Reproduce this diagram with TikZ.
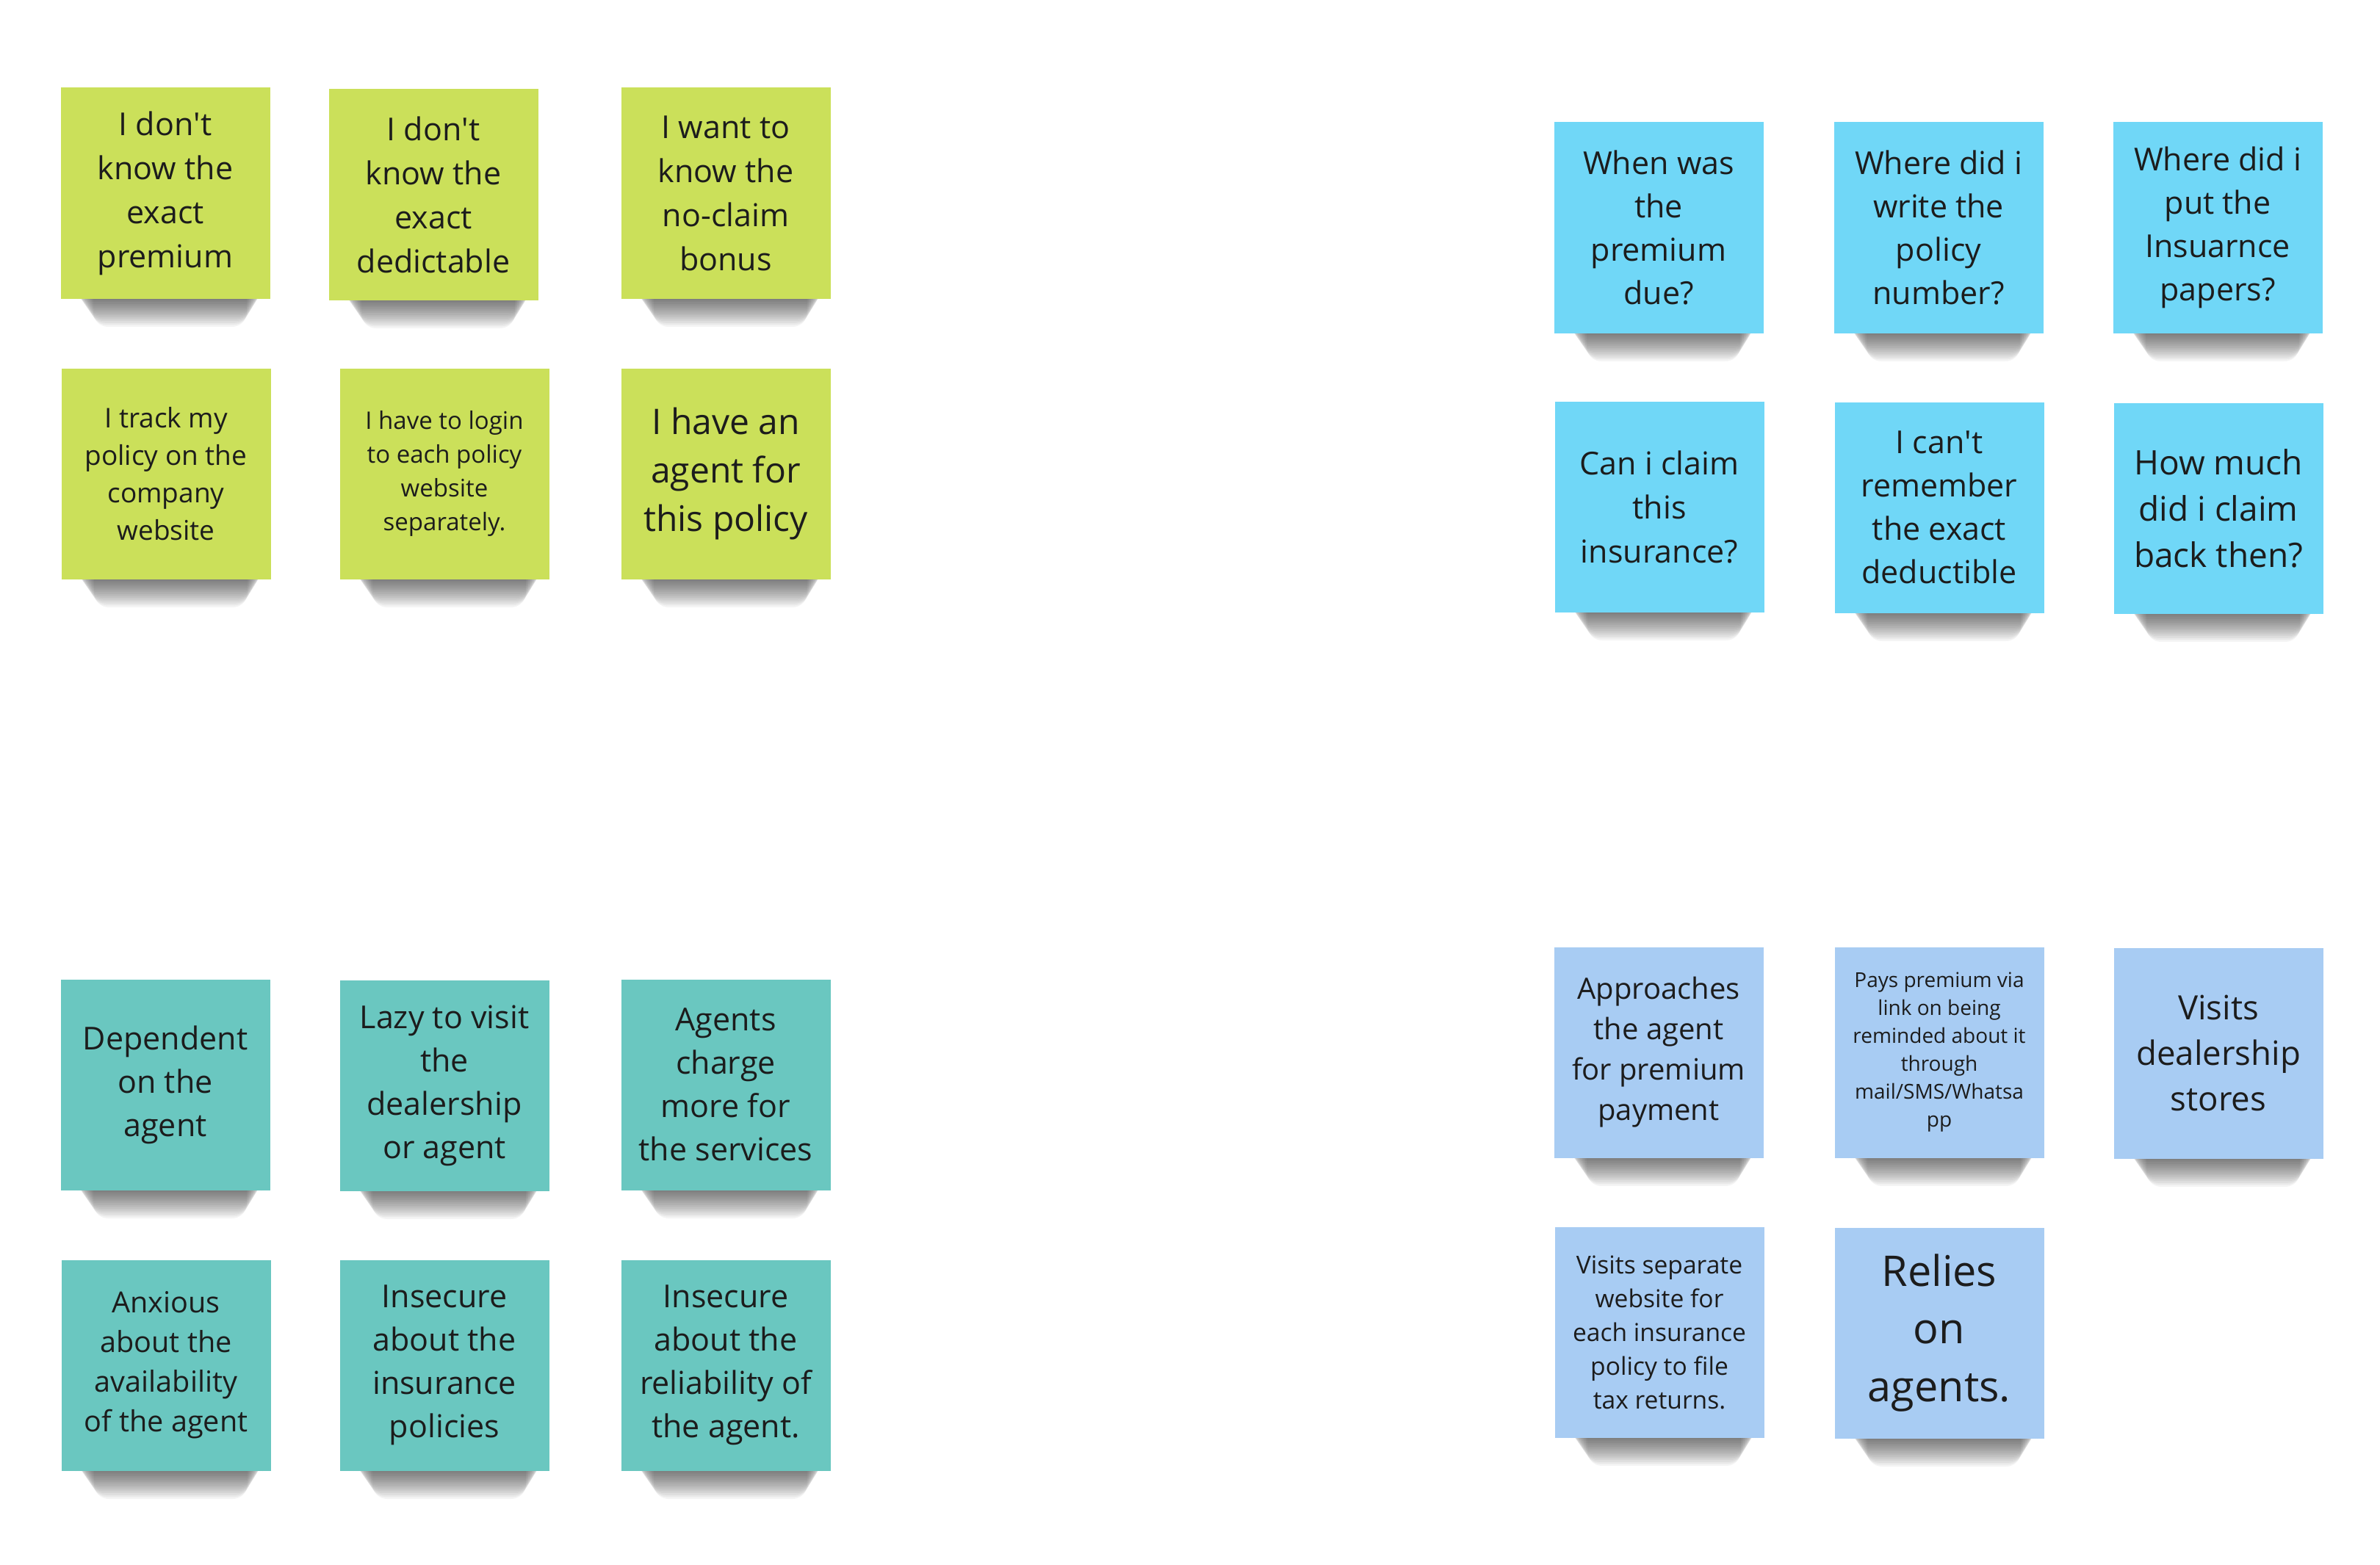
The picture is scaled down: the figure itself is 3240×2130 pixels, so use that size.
\documentclass[tikz,border=0pt]{standalone}
\usepackage{fontspec}
\setmainfont{Open Sans}
\definecolor{limeN}{HTML}{CBE05A}
\definecolor{cyanN}{HTML}{70D7F7}
\definecolor{tealN}{HTML}{6AC7C0}
\definecolor{lblueN}{HTML}{A8CCF3}
\definecolor{inkN}{HTML}{1C1C1C}
\tikzset{
  note/.style={rectangle, minimum width=71.25pt, minimum height=71.75pt, inner sep=0pt,
    text=inkN, align=center},
  shadowlayer/.style={fill=black, fill opacity=0.045, rounded corners=5pt}
}
\newcommand\stickynote[7]{%
  \foreach \k in {1,...,15}{
    \fill[shadowlayer] ({#2-125+1.8*\k},{#3+125}) rectangle ({#2+135-1.6*\k},{#3+143+2.6*\k});
  }
  \node[note, fill=#4, font=\fontsize{#5}{#6}\selectfont] (#1) at (#2,#3) {#7};}
\newcommand\ap{\textquotesingle}
\begin{document}
\begin{tikzpicture}[x=0.25pt, y=-0.25pt]
\useasboundingbox[fill=white] (0,0) rectangle (3240,2130);
% green
\stickynote{g1}{225}{263}{limeN}{10.75pt}{15pt}{I don\ap t\\know the\\exact\\premium}
\stickynote{g2}{590}{265}{limeN}{10.75pt}{15pt}{I don\ap t\\know the\\exact\\dedictable}
\stickynote{g3}{988}{263}{limeN}{10.75pt}{15pt}{I want to\\know the\\no-claim\\bonus}
\stickynote{g4}{226}{645}{limeN}{9.25pt}{12.75pt}{I track my\\policy on the\\company\\website}
\stickynote{g5}{605}{645}{limeN}{8.25pt}{11.5pt}{I have to login\\to each policy\\website\\separately.}
\stickynote{g6}{988}{645}{limeN}{12pt}{16.5pt}{I have an\\agent for\\this policy}
% teal
\stickynote{t1}{225}{1477}{tealN}{10.75pt}{14.75pt}{Dependent\\on the\\agent}
\stickynote{t2}{605}{1478}{tealN}{10.75pt}{14.75pt}{Lazy to visit\\the\\dealership\\or agent}
\stickynote{t3}{988}{1477}{tealN}{10.75pt}{14.75pt}{Agents\\charge\\more for\\the services}
\stickynote{t4}{226}{1859}{tealN}{9.9pt}{13.5pt}{Anxious\\about the\\availability\\of the agent}
\stickynote{t5}{605}{1859}{tealN}{10.75pt}{14.75pt}{Insecure\\about the\\insurance\\policies}
\stickynote{t6}{988}{1859}{tealN}{10.75pt}{14.75pt}{Insecure\\about the\\reliability of\\the agent.}
% cyan
\stickynote{c1}{2258}{310}{cyanN}{10.75pt}{14.75pt}{When was\\the\\premium\\due?}
\stickynote{c2}{2639}{310}{cyanN}{10.75pt}{14.75pt}{Where did i\\write the\\policy\\number?}
\stickynote{c3}{3019}{310}{cyanN}{10.75pt}{14.75pt}{Where did i\\put the\\Insuarnce\\papers?}
\stickynote{c4}{2259}{690}{cyanN}{10.75pt}{15pt}{Can i claim\\this\\insurance?}
\stickynote{c5}{2640}{691}{cyanN}{10.75pt}{14.75pt}{I can\ap t\\remember\\the exact\\deductible}
\stickynote{c6}{3020}{692}{cyanN}{11.5pt}{15.75pt}{How much\\did i claim\\back then?}
% light blue
\stickynote{b1}{2258}{1433}{lblueN}{10pt}{13.75pt}{Approaches\\the agent\\for premium\\payment}
\stickynote{b2}{2640}{1433}{lblueN}{7pt}{9.5pt}{Pays premium via\\link on being\\reminded about it\\through\\mail/SMS/Whatsa\\pp}
\stickynote{b3}{3020}{1434}{lblueN}{11.4pt}{15.5pt}{Visits\\dealership\\stores}
\stickynote{b4}{2259}{1814}{lblueN}{8.4pt}{11.5pt}{Visits separate\\website for\\each insurance\\policy to file\\tax returns.}
\stickynote{b5}{2640}{1815}{lblueN}{14.4pt}{19.6pt}{Relies\\on\\agents.}
\end{tikzpicture}
\end{document}
